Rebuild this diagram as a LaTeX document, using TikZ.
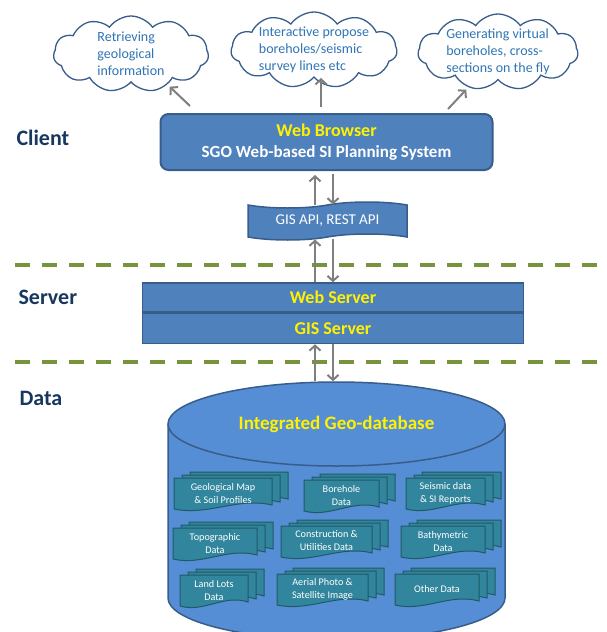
\documentclass[tikz,border=0pt]{standalone}
\usepackage{fontspec}
\setmainfont{Carlito}
\usepackage{tikz}
\usetikzlibrary{positioning, arrows.meta, shapes.geometric, shapes.symbols}

\definecolor{boxblue}{RGB}{79,129,189}
\definecolor{boxline}{RGB}{56,93,138}
\definecolor{dbblue}{RGB}{85,142,213}
\definecolor{docteal}{RGB}{49,133,156}
\definecolor{docline}{RGB}{33,89,104}
\definecolor{layergreen}{RGB}{119,147,60}
\definecolor{layernavy}{RGB}{23,55,94}
\definecolor{cloudblue}{RGB}{47,117,181}
\definecolor{arrowgray}{RGB}{127,127,127}

% stacked data documents: name, x, y, width, text
\newcommand{\docstack}[5]{%
  \pgfmathsetmacro{\dw}{#4/2}
  \foreach \lay in {2,1,0}{
    \begin{scope}[shift={(#2+8*\lay,#3-3*\lay)}]
      \draw[docshape] (-\dw,-16) -- (\dw,-16) -- (\dw,11)
        .. controls (0.3*\dw,3) and (-0.3*\dw,22) .. (-\dw,15) -- cycle;
    \end{scope}
  }
  \node[doctext] (#1) at (#2,#3-1) {#5};
}

\begin{document}
\begin{tikzpicture}[
    x=1pt, y=-1pt,
    cloudbox/.style={cloud, cloud puffs=11, cloud puff arc=110, cloud ignores aspect, draw=boxline, line width=1.3pt, fill=white, inner sep=0pt},
    cloudtext/.style={align=left, text=cloudblue, font=\fontsize{14}{17}\selectfont},
    layer/.style={anchor=west, text=layernavy, font=\fontsize{22}{24}\selectfont\bfseries},
    divider/.style={layergreen, line width=3.5pt, dash pattern=on 15pt off 12pt},
    browserbox/.style={rectangle, rounded corners=8pt, draw=boxline, line width=2pt, fill=boxblue, minimum width=332pt, minimum height=56pt, align=center, text=white, font=\fontsize{17}{21}\selectfont\bfseries},
    apibox/.style={tape, tape bend top=in and out, tape bend bottom=in and out, tape bend height=6pt, draw=boxline, line width=1.5pt, fill=boxblue, minimum width=159pt, minimum height=38pt, text=white, font=\fontsize{15}{17}\selectfont},
    serverbox/.style={rectangle, draw=boxline, line width=1.5pt, fill=boxblue, minimum width=381pt, text=yellow, font=\fontsize{18}{20}\selectfont\bfseries},
    dbtop/.style={ellipse, draw=boxline, line width=1.5pt, fill=dbblue, minimum width=337pt, minimum height=84pt, inner sep=0pt, text=yellow, font=\fontsize{19}{21}\selectfont\bfseries},
    dbbody/.style={draw=boxline, line width=1.5pt, fill=dbblue},
    docshape/.style={draw=docline, line width=1pt, fill=docteal},
    doctext/.style={align=center, text=white, inner sep=0pt, font=\fontsize{10.2}{13}\selectfont},
    arrow/.style={-{Straight Barb[length=5pt,width=11pt]}, arrowgray, line width=2pt}
]
\useasboundingbox (0,0) rectangle (606,632);
\clip (0,0) rectangle (606,632);

% Layers
\node[layer] (client) at (13,138) {Client};
\node[layer] (server) at (15,297) {Server};
\node[layer] (data) at (16,398) {Data};

\draw[divider] (15,265) -- (606,265);
\draw[divider] (15,362) -- (606,362);

% Clouds
\node[cloudbox, minimum width=155pt, minimum height=76pt, label={[cloudtext]center:{Retrieving\\geological\\information}}] (c1) at (131,54) {};
\node[cloudbox, minimum width=166pt, minimum height=76pt, label={[cloudtext]center:{Interactive propose\\boreholes/seismic\\survey lines etc}}] (c2) at (314,50) {};
\node[cloudbox, minimum width=160pt, minimum height=76pt, label={[cloudtext]center:{Generating virtual\\boreholes, cross-\\sections on the fly}}] (c3) at (498,52) {};

% Client
\node[browserbox] (browser) at (326.5,142) {\textcolor{yellow}{\fontsize{18}{21}\selectfont Web Browser}\\SGO Web-based SI Planning System};
\node[apibox] (api) at (327.5,221) {GIS API, REST API};

% Server
\node[serverbox, minimum height=29pt] (websrv) at (333,297.5) {Web Server};
\node[serverbox, minimum height=30pt, below=0pt of websrv] (gissrv) {GIS Server};

% Data
\draw[dbbody] (168,425) -- (168,598) arc[start angle=180, end angle=0, x radius=168.5, y radius=42] -- (505,425) -- cycle;
\node[dbtop] (db) at (336.5,424) {Integrated Geo-database};

\docstack{geomap}{223}{494}{98}{Geological Map\\\& Soil Profiles}
\docstack{borehole}{341.5}{496}{75}{Borehole\\Data}
\docstack{seismic}{445.5}{494}{79}{Seismic data\\\& SI Reports}
\docstack{topo}{215}{544}{84}{Topographic\\Data}
\docstack{utility}{326.5}{542}{91}{Construction \&\\Utilities Data}
\docstack{bathy}{443}{542}{84}{Bathymetric\\Data}
\docstack{landlot}{214}{591}{68}{Land Lots\\Data}
\docstack{aerial}{322.5}{590}{91}{Aerial Photo \&\\Satellite Image}
\docstack{other}{437}{590}{84}{Other Data}

% Arrows
\coordinate (upx) at (315,0);
\coordinate (dnx) at (333,0);
\coordinate (t1) at (190,106);
\coordinate (t2) at (321,107);
\coordinate (t3) at (448,109);

\draw[arrow, shorten >=3pt] (t1) -- (c1.-40);
\draw[arrow] (t2) -- (t2 |- c2.south);
\draw[arrow, shorten >=3pt] (t3) -- (c3.-130);

\draw[arrow, shorten >=4pt] (api.north -| upx) -- (browser.south -| upx);
\draw[arrow, shorten <=3pt] (browser.south -| dnx) -- (api.north -| dnx);
\draw[arrow, shorten >=2pt] (websrv.north -| upx) -- (api.south -| upx);
\draw[arrow, shorten <=2pt] (api.south -| dnx) -- (websrv.north -| dnx);
\draw[arrow] (db.north -| upx) -- (gissrv.south -| upx);
\draw[arrow] (gissrv.south -| dnx) -- (db.north -| dnx);

\end{tikzpicture}
\end{document}
